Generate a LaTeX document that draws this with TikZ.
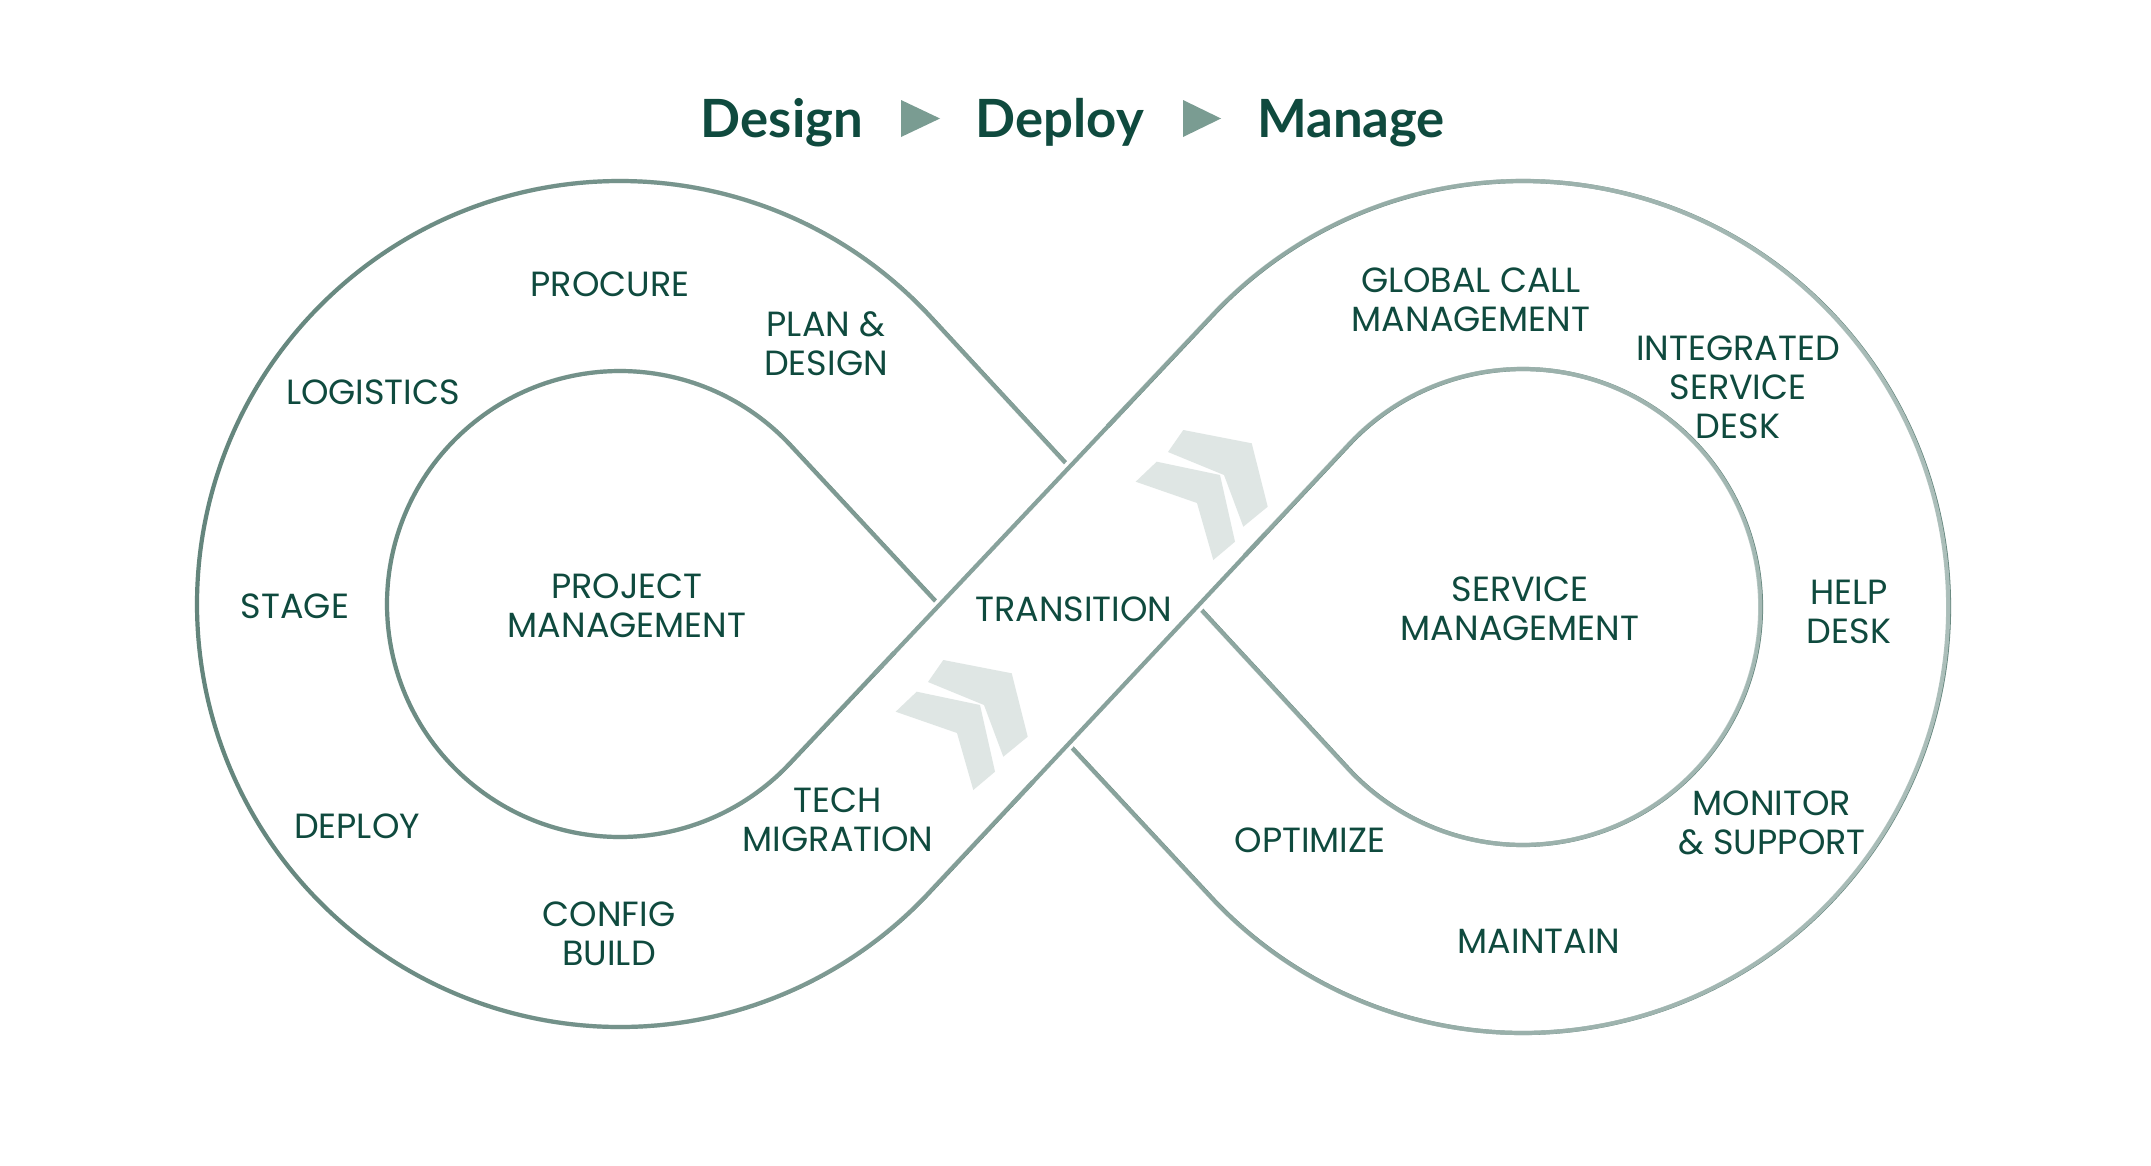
\documentclass[tikz,border=0pt]{standalone}
\usepackage{fontspec}
\setmainfont{Poppins}
\newfontfamily\titlefont{Lato}
\usetikzlibrary{calc,fadings}
\definecolor{txt}{HTML}{0F4A3E}
\definecolor{tri}{HTML}{7A9C92}
\definecolor{edgedark}{HTML}{62847B}
\definecolor{edgelight}{HTML}{AEC0BC}
\colorlet{edgemid}{edgedark!50!edgelight}
\definecolor{chev}{HTML}{DFE6E4}
\tikzfading[name=fadetoright, left color=transparent!100, right color=transparent!0]
\begin{document}
\begin{tikzpicture}[
  lbl/.style={font=\fontsize{9.95pt}{11.1pt}\selectfont, text=txt, align=center, inner sep=0pt},
  ttl/.style={font=\titlefont\fontsize{15pt}{17pt}\selectfont\bfseries, text=txt, inner sep=0pt, anchor=base},
  edgeline/.style={line width=0.042cm},
  chevron/.style={fill=chev, draw=none},
  trianglemark/.style={fill=tri, draw=none}
]
\path[use as bounding box] (0,0) rectangle (21.51,11.65);
\fill[white] (0,0) rectangle (21.51,11.65);

\coordinate (CL) at (6.20,5.61);
\coordinate (CR) at (15.23,5.58);
\coordinate (A1o) at ($(CL)+(43.02:4.23)$);
\coordinate (A1i) at ($(CL)+(43.02:2.33)$);
\coordinate (A2o) at ($(CR)+(223.02:4.26)$);
\coordinate (A2i) at ($(CR)+(223.02:2.38)$);
\coordinate (B1o) at ($(CL)+(-43.52:4.23)$);
\coordinate (B1i) at ($(CL)+(-43.52:2.33)$);
\coordinate (B2o) at ($(CR)+(136.48:4.26)$);
\coordinate (B2i) at ($(CR)+(136.48:2.38)$);
\coordinate (T3) at ($(CL)+(-43.52:3.28)$);
\coordinate (T4) at ($(CR)+(136.48:3.32)$);

% band edges
\def\bandedges{
  (A1o) arc[start angle=43.02, end angle=316.48, radius=4.23] -- (B2i)
        arc[start angle=136.48, end angle=-136.98, radius=2.38] -- cycle
  (A1i) arc[start angle=43.02, end angle=316.48, radius=2.33] -- (B2o)
        arc[start angle=136.48, end angle=-136.98, radius=4.26] -- cycle
}
\draw[edgeline, edgedark] \bandedges;
\draw[edgeline, edgelight, path fading=fadetoright] \bandedges;

% over-strand at the crossing
\draw[white, line width=2.0cm] ($(T3)!0.25!(T4)$) -- ($(T3)!0.75!(T4)$);
\draw[edgeline, edgemid] ($(B1o)!0.2!(B2i)$) -- ($(B1o)!0.8!(B2i)$);
\draw[edgeline, edgemid] ($(B1i)!0.2!(B2o)$) -- ($(B1i)!0.8!(B2o)$);

% chevrons
\foreach \dx/\dy in {0/0, -2.40/-2.30}{
  \begin{scope}[shift={(\dx,\dy)}]
    \fill[chevron] (11.833,7.35) -- (12.517,7.217) -- (12.677,6.583) -- (12.433,6.383) -- (12.24,6.90) -- (11.68,7.13) -- cycle;
    \fill[chevron] (11.567,7.033) -- (12.20,6.90) -- (12.35,6.233) -- (12.133,6.05) -- (11.97,6.62) -- (11.357,6.833) -- cycle;
  \end{scope}
}

% title
\node[ttl] (tdesign) at (7.82,10.28) {Design};
\node[ttl] (tdeploy) at (10.60,10.28) {Deploy};
\node[ttl] (tmanage) at (13.51,10.28) {Manage};
\fill[trianglemark] (9.01,10.65) -- (9.40,10.465) -- (9.01,10.28) -- cycle;
\fill[trianglemark] (11.83,10.65) -- (12.21,10.465) -- (11.83,10.28) -- cycle;

% labels
\node[lbl] (procure) at (6.10,8.81) {PROCURE};
\node[lbl] (plan) at (8.26,8.21) {PLAN \&\\DESIGN};
\node[lbl] (logistics) at (3.73,7.73) {LOGISTICS};
\node[lbl] (stage) at (2.95,5.59) {STAGE};
\node[lbl] (pm) at (6.27,5.59) {PROJECT\\MANAGEMENT};
\node[lbl] (deploy) at (3.57,3.39) {DEPLOY};
\node[lbl] (config) at (6.09,2.31) {CONFIG\\BUILD};
\node[lbl] (tech) at (8.38,3.45) {TECH\\MIGRATION};
\node[lbl] (transition) at (10.74,5.56) {TRANSITION};
\node[lbl] (gcm) at (14.71,8.65) {GLOBAL CALL\\MANAGEMENT};
\node[lbl] (isd) at (17.38,7.78) {INTEGRATED\\SERVICE\\DESK};
\node[lbl] (sm) at (15.20,5.56) {SERVICE\\MANAGEMENT};
\node[lbl] (help) at (18.49,5.53) {HELP\\DESK};
\node[lbl] (optimize) at (13.10,3.25) {OPTIMIZE};
\node[lbl] (monitor) at (17.72,3.42) {MONITOR\\\& SUPPORT};
\node[lbl] (maintain) at (15.39,2.24) {MAINTAIN};
\end{tikzpicture}
\end{document}
